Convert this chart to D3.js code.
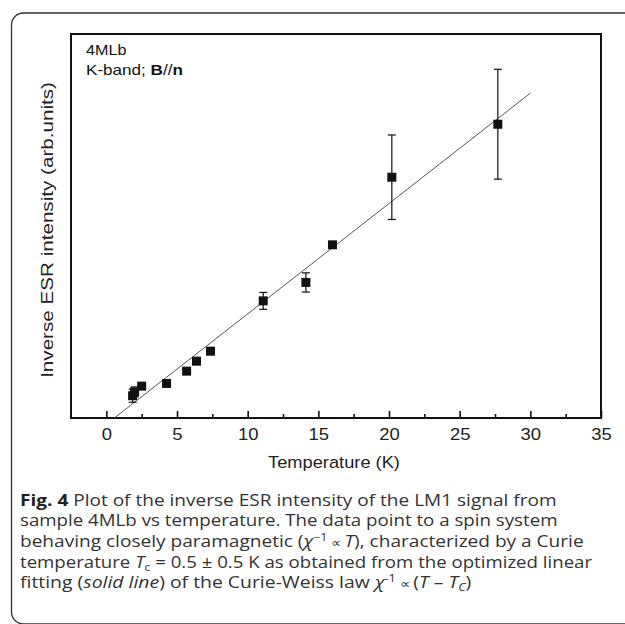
<!DOCTYPE html>
<html><head><meta charset="utf-8">
<script src="https://cdn.jsdelivr.net/npm/d3@7"></script>
<style>
html,body{margin:0;padding:0;background:#fff;}
svg{display:block;}
</style></head>
<body>
<script>
// ---- data ----
const temperature = [1.86, 2.0, 2.5, 4.26, 5.68, 6.38, 7.37, 11.1, 14.12, 16.0, 20.2, 27.7];
const inverseESR  = [5.8, 6.8, 8.3, 9.0, 12.2, 14.8, 17.4, 30.5, 35.3, 45.1, 62.7, 76.5];
const errorESR    = [1.7, 1.3, 0, 0, 0, 0, 0, 2.2, 2.5, 0, 11.0, 14.3];
const fitT = [0.57, 30];
const fitY = [0, 84.6];
const xMajorTicks = [0, 5, 10, 15, 20, 25, 30, 35];
const xMinorTicks = [2.5, 7.5, 12.5, 17.5, 22.5, 27.5, 32.5];

(function () {
const W = 625, H = 624;
const svg = d3.select("body").append("svg").attr("width", W).attr("height", H);

// stretch a text horizontally (in its own frame) to a target width
function stretchTo(sel, baseTransform, target) {
  const w = sel.node().getBBox().width;
  sel.attr("transform", `${baseTransform} scale(${target / w},1)`);
}

// outer rounded border
svg.append("rect").attr("x", 11.5).attr("y", 13).attr("width", 700).attr("height", 611)
  .attr("rx", 12).attr("fill", "none").attr("stroke", "#333").attr("stroke-width", 1.3);

const mL = 71, mR = 601, mT = 34, mB = 418;
const x = d3.scaleLinear().domain([-2.5, 35]).range([mL, mR]);
const y = d3.scaleLinear().domain([0, 100]).range([mB, mT]);

const plotFont = "'Liberation Sans', Arial, sans-serif";

// ticks (inward)
const xAxis = d3.axisBottom(x).tickValues(xMajorTicks).tickSize(-7).tickPadding(10.3)
  .tickFormat(d3.format("d"));
const gx = svg.append("g").attr("transform", `translate(0,${mB})`).call(xAxis);
gx.select(".domain").remove();
gx.selectAll(".tick line").attr("stroke", "#111").attr("stroke-width", 1.6);
gx.selectAll(".tick text").attr("font-family", plotFont).attr("font-size", 16.5).attr("fill", "#222")
  .attr("transform", "scale(1.12,1)");
const xMinor = d3.axisBottom(x).tickValues(xMinorTicks).tickSize(-4).tickFormat("");
const gxm = svg.append("g").attr("transform", `translate(0,${mB})`).call(xMinor);
gxm.select(".domain").remove();
gxm.selectAll(".tick line").attr("stroke", "#111").attr("stroke-width", 1.6);

// frame
svg.append("rect").attr("x", mL).attr("y", mT).attr("width", mR - mL).attr("height", mB - mT)
  .attr("fill", "none").attr("stroke", "#111").attr("stroke-width", 2);

// fit line
svg.append("line")
  .attr("x1", x(fitT[0])).attr("y1", y(fitY[0]))
  .attr("x2", x(fitT[1])).attr("y2", y(fitY[1]))
  .attr("stroke", "#555").attr("stroke-width", 1);

// error bars
const pts = temperature.map((t, i) => ({t, v: inverseESR[i], e: errorESR[i]}));
const eb = svg.append("g").attr("stroke", "#111").attr("stroke-width", 1.2);
pts.filter(d => d.e > 0).forEach(d => {
  const cx = x(d.t);
  eb.append("line").attr("x1", cx).attr("x2", cx).attr("y1", y(d.v - d.e)).attr("y2", y(d.v + d.e));
  eb.append("line").attr("x1", cx - 4).attr("x2", cx + 4).attr("y1", y(d.v - d.e)).attr("y2", y(d.v - d.e));
  eb.append("line").attr("x1", cx - 4).attr("x2", cx + 4).attr("y1", y(d.v + d.e)).attr("y2", y(d.v + d.e));
});

// squares
const s = 9;
svg.append("g").selectAll("rect").data(pts).join("rect")
  .attr("x", d => x(d.t) - s / 2).attr("y", d => y(d.v) - s / 2)
  .attr("width", s).attr("height", s).attr("fill", "#111");

// inside labels
const t1 = svg.append("text").attr("font-family", plotFont).attr("font-size", 14)
  .attr("fill", "#111").text("4MLb");
stretchTo(t1, "translate(86,55)", 40.7);
const t2 = svg.append("text").attr("font-family", plotFont).attr("font-size", 14)
  .attr("fill", "#111");
t2.append("tspan").text("K-band; ");
t2.append("tspan").attr("font-weight", "bold").text("B");
t2.append("tspan").text("//");
t2.append("tspan").attr("font-weight", "bold").text("n");
stretchTo(t2, "translate(86,75)", 97);

// axis titles
const xt = svg.append("text").attr("text-anchor", "middle")
  .attr("font-family", plotFont).attr("font-size", 16.5).attr("fill", "#222").text("Temperature (K)");
stretchTo(xt, `translate(${(mL + mR) / 2 - 2},468)`, 132);
const yt = svg.append("text").attr("text-anchor", "middle").attr("font-family", plotFont)
  .attr("font-size", 16.5).attr("fill", "#222").text("Inverse ESR intensity (arb.units)");
stretchTo(yt, `translate(52.5,230) rotate(-90)`, 296);

// caption
const capFont = "'Open Sans', 'Noto Sans', sans-serif";
const capLines = [
  [{t: "Fig. 4", b: true}, {t: " Plot of the inverse ESR intensity of the LM1 signal from"}],
  [{t: "sample 4MLb vs temperature. The data point to a spin system"}],
  [{t: "behaving closely paramagnetic ("}, {t: "χ", i: true}, {t: "−1", sup: true}, {t: " ∝ ", sm: true}, {t: "T", i: true}, {t: "), characterized by a Curie"}],
  [{t: "temperature "}, {t: "T", i: true}, {t: "c", sub: true}, {t: " = 0.5 ± 0.5 K as obtained from the optimized linear"}],
  [{t: "fitting ("}, {t: "solid line", i: true}, {t: ") of the Curie-Weiss law "}, {t: "χ", i: true}, {t: "-1", sup: true}, {t: " ∝ ", sm: true}, {t: "("}, {t: "T", i: true}, {t: " – "}, {t: "T", i: true}, {t: "C", sub: true, i: true}, {t: ")"}]
];
const capY = [505.7, 526.3, 546.9, 567.5, 588];
const capRight = [557, 558, 585, 593, 473];
const capLeft = 20;
capLines.forEach((line, li) => {
  const tx = svg.append("text").attr("x", 0).attr("y", 0).attr("font-family", capFont)
    .attr("font-size", 16).attr("fill", "#333");
  let pending = 0;
  line.forEach(seg => {
    const ts = tx.append("tspan").text(seg.t);
    let dy = pending; pending = 0;
    if (seg.b) ts.attr("font-weight", "bold").attr("fill", "#222");
    if (seg.i) ts.attr("font-style", "italic");
    if (seg.sup) { ts.attr("font-size", 10.5); dy += -6; pending = 6; }
    if (seg.sub) { ts.attr("font-size", 10.5); dy += 3; pending = -3; }
    if (seg.sm) ts.attr("font-size", 12);
    if (dy) ts.attr("dy", dy);
  });
  stretchTo(tx, `translate(${capLeft},${capY[li]})`, capRight[li] - capLeft);
});
})();
</script>
</body></html>
